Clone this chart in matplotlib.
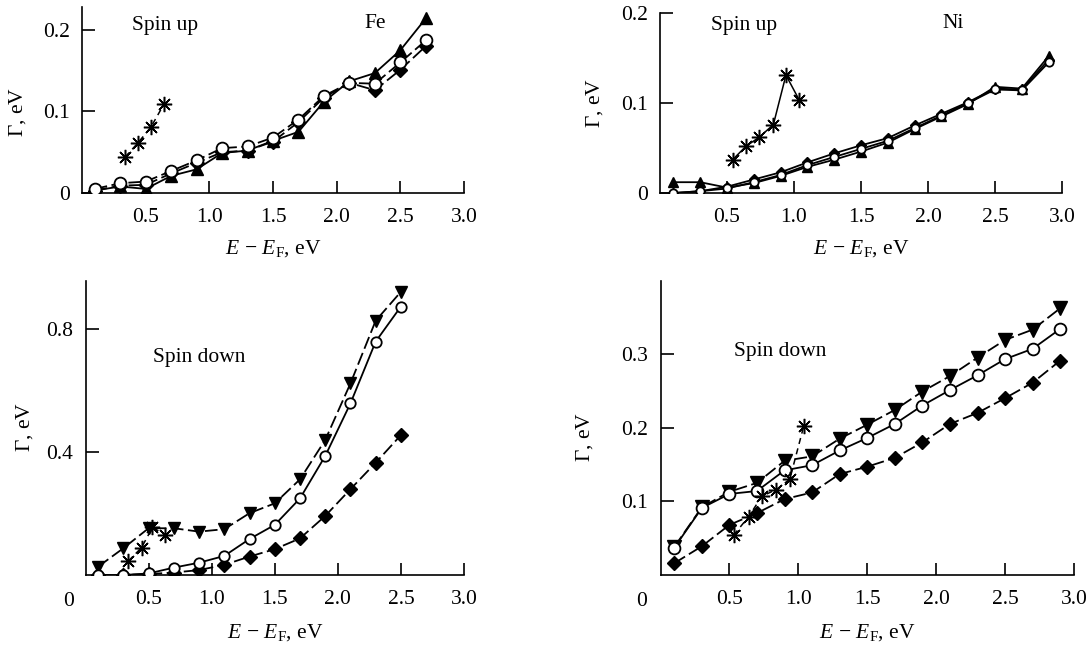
import matplotlib
matplotlib.use("Agg")
import matplotlib.pyplot as plt

plt.rcParams['font.family'] = ['Liberation Serif', 'DejaVu Serif']
plt.rcParams['mathtext.fontset'] = 'custom'
plt.rcParams['mathtext.rm'] = 'Liberation Serif'
plt.rcParams['mathtext.it'] = 'Liberation Serif:italic'
plt.rcParams['mathtext.bf'] = 'Liberation Serif:bold'
plt.rcParams['mathtext.fallback'] = 'stix'
FS = 15.5
plt.rcParams['font.size'] = FS

# ---------------- data ----------------
x_fe = [0.1, 0.3, 0.5, 0.7, 0.9, 1.1, 1.3, 1.5, 1.7, 1.9, 2.1, 2.3, 2.5, 2.7]
fe_up_tri = [0.003, 0.008, 0.005, 0.021, 0.029, 0.049, 0.052, 0.064, 0.075, 0.112, 0.137, 0.147, 0.175, 0.214]
fe_up_circ = [0.005, 0.012, 0.014, 0.027, 0.040, 0.055, 0.057, 0.068, 0.090, 0.119, 0.135, 0.134, 0.160, 0.187]
fe_up_diam = [0.003, 0.009, 0.010, 0.024, 0.037, 0.050, 0.052, 0.063, 0.087, 0.117, 0.135, 0.126, 0.151, 0.180]
fe_up_ast_x = [0.338, 0.437, 0.542, 0.644]
fe_up_ast = [0.044, 0.061, 0.081, 0.109]

x_fe_dn = [0.1, 0.3, 0.5, 0.7, 0.9, 1.1, 1.3, 1.5, 1.7, 1.9, 2.1, 2.3, 2.5]
fe_dn_tri = [0.027, 0.087, 0.152, 0.152, 0.141, 0.149, 0.201, 0.233, 0.311, 0.439, 0.623, 0.827, 0.921]
fe_dn_circ = [0.0, 0.0, 0.005, 0.024, 0.040, 0.062, 0.117, 0.163, 0.249, 0.387, 0.558, 0.759, 0.873]
fe_dn_diam = [0.0, 0.0, 0.003, 0.008, 0.016, 0.033, 0.060, 0.084, 0.119, 0.192, 0.279, 0.365, 0.455]
fe_dn_ast_x = [0.339, 0.444, 0.531, 0.634]
fe_dn_ast = [0.045, 0.089, 0.155, 0.130]

x_ni = [0.1, 0.3, 0.5, 0.7, 0.9, 1.1, 1.3, 1.5, 1.7, 1.9, 2.1, 2.3, 2.5, 2.7, 2.9]
ni_up_tri = [0.012, 0.012, 0.006, 0.011, 0.019, 0.029, 0.037, 0.046, 0.056, 0.071, 0.085, 0.099, 0.118, 0.116, 0.152]
ni_up_circ = [0.000, 0.002, 0.005, 0.012, 0.020, 0.031, 0.040, 0.049, 0.058, 0.072, 0.086, 0.100, 0.115, 0.114, 0.145]
ni_up_diam = [0.000, 0.002, 0.007, 0.015, 0.023, 0.034, 0.044, 0.053, 0.061, 0.075, 0.088, 0.101, 0.116, 0.115, 0.148]
ni_up_ast_x = [0.542, 0.642, 0.741, 0.846, 0.940, 1.040]
ni_up_ast = [0.037, 0.052, 0.062, 0.076, 0.131, 0.103]

ni_dn_tri = [0.038, 0.092, 0.113, 0.125, 0.155, 0.161, 0.185, 0.204, 0.224, 0.249, 0.270, 0.295, 0.319, 0.333, 0.362]
ni_dn_circ = [0.037, 0.091, 0.110, 0.114, 0.142, 0.149, 0.169, 0.186, 0.205, 0.230, 0.251, 0.271, 0.293, 0.307, 0.334]
ni_dn_diam = [0.016, 0.039, 0.068, 0.084, 0.103, 0.112, 0.137, 0.147, 0.159, 0.180, 0.205, 0.220, 0.240, 0.261, 0.291]
ni_dn_ast_x = [0.530, 0.639, 0.736, 0.841, 0.938, 1.039]
ni_dn_ast = [0.054, 0.079, 0.107, 0.116, 0.130, 0.202]

xticks = [0.5, 1.0, 1.5, 2.0, 2.5, 3.0]
xticklabels = ['0.5', '1.0', '1.5', '2.0', '2.5', '3.0']

W, H = 1090, 645
fig = plt.figure(figsize=(W / 100, H / 100), dpi=100)


def rect(l, r, t, b):
    return [l / W, 1 - b / H, (r - l) / W, (b - t) / H]


AST = (8, 2, 0)
DASH = (0, (7, 2.5))


def style(ax, ylim, yticks, yticklabels, ylab_xy, xlab_y):
    ax.set_xlim(0, 3.0)
    ax.set_ylim(*ylim)
    for s in ['top', 'right']:
        ax.spines[s].set_visible(False)
    for s in ['left', 'bottom']:
        ax.spines[s].set_linewidth(1.2)
    ax.set_xticks(xticks)
    ax.set_xticklabels(xticklabels)
    ax.set_yticks(yticks)
    ax.set_yticklabels(yticklabels)
    ax.tick_params(axis='both', direction='in', length=9, width=1.2, labelsize=FS)
    ax.tick_params(axis='x', pad=11)
    ax.tick_params(axis='y', pad=9)
    ax.set_xlabel(r'$E\,-\,E_{\mathrm{F}}$, eV', fontsize=FS, va='center')
    ax.set_ylabel(r'$\mathit{Γ}$, eV', fontsize=FS, va='center')
    ax.yaxis.set_label_coords(*ylab_xy)
    ax.xaxis.set_label_coords(0.5, xlab_y)


def plot_series(ax, x, tri, circ, diam, ast_x, ast, tri_marker='^', ms=9, cms=8,
                tri_ls='-', circ_ls='-', diam_ls=DASH, ast_ls=(0, (4, 3))):
    ax.plot(x, diam, ls=diam_ls, color='black', lw=1.3, marker='D', ms=ms * 0.8,
            mfc='black', mec='black', zorder=3)
    ax.plot(x, tri, ls=tri_ls, color='black', lw=1.3, marker=tri_marker, ms=ms,
            mfc='black', mec='black', zorder=4)
    ax.plot(x, circ, ls=circ_ls, color='black', lw=1.3, marker='o', ms=cms,
            mfc='white', mec='black', mew=1.3, zorder=5)
    ax.plot(ast_x, ast, ls=ast_ls, color='black', lw=1.1, marker=AST, ms=11,
            mec='black', mew=1.1, zorder=6)


# Panel 1: Fe spin up
ax1 = fig.add_axes(rect(82, 464, 7, 193))
plot_series(ax1, x_fe, fe_up_tri, fe_up_circ, fe_up_diam, fe_up_ast_x, fe_up_ast,
            ms=9, cms=8.5, circ_ls=DASH)
style(ax1, (0, 0.228), [0, 0.1, 0.2], ['0', '0.1', '0.2'], (-0.168, 0.435), -0.296)
ax1.text(0.217, 0.9, 'Spin up', transform=ax1.transAxes, ha='center', va='center')
ax1.text(0.767, 0.91, 'Fe', transform=ax1.transAxes, ha='center', va='center')

# Panel 2: Ni spin up
ax2 = fig.add_axes(rect(660, 1062, 13, 193))
plot_series(ax2, x_ni, ni_up_tri, ni_up_circ, ni_up_diam, ni_up_ast_x, ni_up_ast,
            ms=7, cms=6, diam_ls='-', ast_ls='-')
style(ax2, (0, 0.2), [0, 0.1, 0.2], ['0', '0.1', '0.2'], (-0.162, 0.5), -0.306)
ax2.text(0.21, 0.93, 'Spin up', transform=ax2.transAxes, ha='center', va='center')
ax2.text(0.73, 0.94, 'Ni', transform=ax2.transAxes, ha='center', va='center')

# Panel 3: Fe spin down
ax3 = fig.add_axes(rect(85.5, 464, 281, 575))
plot_series(ax3, x_fe_dn, fe_dn_tri, fe_dn_circ, fe_dn_diam, fe_dn_ast_x, fe_dn_ast,
            tri_marker='v', ms=9, cms=7.5, tri_ls=DASH)
style(ax3, (0, 0.956), [0.4, 0.8], ['0.4', '0.8'], (-0.16, 0.503), -0.197)
ax3.text(0.30, 0.74, 'Spin down', transform=ax3.transAxes, ha='center', va='center')
ax3.text(-0.046, -0.09, '0', transform=ax3.transAxes, ha='center', va='center')

# Panel 4: Ni spin down
ax4 = fig.add_axes(rect(660.5, 1074, 281, 575))
plot_series(ax4, x_ni, ni_dn_tri, ni_dn_circ, ni_dn_diam, ni_dn_ast_x, ni_dn_ast,
            tri_marker='v', ms=9.5, cms=8.5, tri_ls=DASH)
style(ax4, (0, 0.399), [0.1, 0.2, 0.3], ['0.1', '0.2', '0.3'], (-0.183, 0.469), -0.197)
ax4.text(0.29, 0.76, 'Spin down', transform=ax4.transAxes, ha='center', va='center')
ax4.text(-0.045, -0.09, '0', transform=ax4.transAxes, ha='center', va='center')

fig.savefig('out.png', dpi=100)
